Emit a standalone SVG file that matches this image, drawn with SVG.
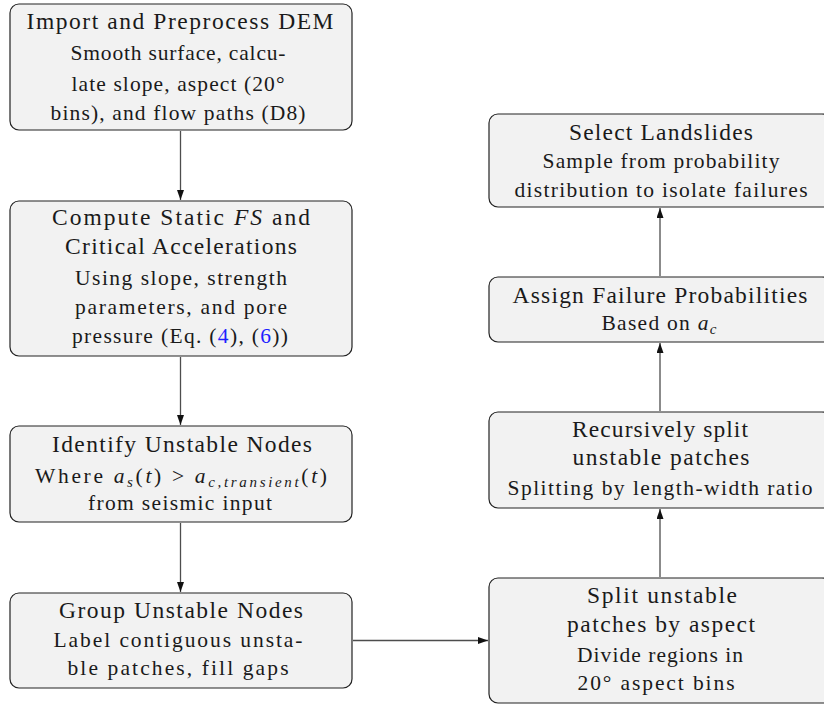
<svg xmlns="http://www.w3.org/2000/svg" width="824" height="704" viewBox="0 0 824 704">
<style>
  .box { fill: #f2f2f2; stroke: #222; stroke-width: 1.2; }
  text { font-family: "Liberation Serif", "Times New Roman", serif; fill: #1a1a1a; text-anchor: middle; }
  .t { font-size: 23.5px; }
  .s { font-size: 21.5px; }
  .m { font-style: italic; }
  .sub { font-size: 15px; font-style: italic; }
  .link { fill: #1f1fff; }
  .conn { stroke: #4d4d4d; stroke-width: 1.3; fill: none; marker-end: url(#arr); }
</style>
<defs>
  <marker id="arr" viewBox="0 0 10 7" refX="10" refY="3.5" markerWidth="10" markerHeight="7" markerUnits="userSpaceOnUse" orient="auto">
    <path d="M0,0 L10,3.5 L0,7 Z" fill="#111"/>
  </marker>
</defs>
<g id="connectors">
  <line class="conn" x1="180.5" y1="131" x2="180.5" y2="200"/>
  <line class="conn" x1="180.5" y1="357" x2="180.5" y2="425"/>
  <line class="conn" x1="180.5" y1="523" x2="180.5" y2="592"/>
  <line class="conn" x1="353" y1="640.5" x2="488" y2="640.5"/>
  <line class="conn" x1="660" y1="577" x2="660" y2="509"/>
  <line class="conn" x1="660" y1="411" x2="660" y2="343"/>
  <line class="conn" x1="660" y1="276" x2="660" y2="208"/>
</g>
<g id="n1">
  <rect class="box" x="10" y="4" width="342" height="126" rx="9"/>
  <text class="t" x="180" y="29" textLength="307" lengthAdjust="spacing">Import and Preprocess DEM</text>
  <text class="s" x="178" y="60" textLength="215" lengthAdjust="spacing">Smooth surface, calcu-</text>
  <text class="s" x="178" y="91" textLength="213" lengthAdjust="spacing">late slope, aspect (20°</text>
  <text class="s" x="178" y="120" textLength="255" lengthAdjust="spacing">bins), and flow paths (D8)</text>
</g>
<g id="n2">
  <rect class="box" x="10" y="201" width="342" height="155" rx="9"/>
  <text class="t" x="181" y="225" textLength="258" lengthAdjust="spacing">Compute Static <tspan class="m">FS</tspan> and</text>
  <text class="t" x="181" y="254" textLength="232" lengthAdjust="spacing">Critical Accelerations</text>
  <text class="s" x="181" y="285" textLength="212" lengthAdjust="spacing">Using slope, strength</text>
  <text class="s" x="181" y="314" textLength="212" lengthAdjust="spacing">parameters, and pore</text>
  <text class="s" x="180" y="343" textLength="216" lengthAdjust="spacing">pressure (Eq. (<tspan class="link">4</tspan>), (<tspan class="link">6</tspan>))</text>
</g>
<g id="n3">
  <rect class="box" x="10" y="426" width="342" height="96" rx="9"/>
  <text class="t" x="182" y="452" textLength="260" lengthAdjust="spacing">Identify Unstable Nodes</text>
  <text class="s" x="181" y="483" textLength="292" lengthAdjust="spacing">Where <tspan class="m">a</tspan><tspan class="sub" dy="4">s</tspan><tspan dy="-4">(</tspan><tspan class="m">t</tspan>) &gt; <tspan class="m">a</tspan><tspan class="sub" dy="4">c,transient</tspan><tspan dy="-4">(</tspan><tspan class="m">t</tspan>)</text>
  <text class="s" x="180" y="510" textLength="184" lengthAdjust="spacing">from seismic input</text>
</g>
<g id="n4">
  <rect class="box" x="10" y="593" width="342" height="95" rx="9"/>
  <text class="t" x="181" y="618" textLength="244" lengthAdjust="spacing">Group Unstable Nodes</text>
  <text class="s" x="178" y="647" textLength="249" lengthAdjust="spacing">Label contiguous unsta-</text>
  <text class="s" x="178" y="675" textLength="221" lengthAdjust="spacing">ble patches, fill gaps</text>
</g>
<g id="n5">
  <rect class="box" x="489" y="578" width="342" height="125" rx="9"/>
  <text class="t" x="662" y="603" textLength="150" lengthAdjust="spacing">Split unstable</text>
  <text class="t" x="661" y="632" textLength="188" lengthAdjust="spacing">patches by aspect</text>
  <text class="s" x="660" y="662" textLength="166" lengthAdjust="spacing">Divide regions in</text>
  <text class="s" x="656" y="690" textLength="157" lengthAdjust="spacing">20° aspect bins</text>
</g>
<g id="n6">
  <rect class="box" x="489" y="412" width="342" height="96" rx="9"/>
  <text class="t" x="660" y="437" textLength="176" lengthAdjust="spacing">Recursively split</text>
  <text class="t" x="661" y="465" textLength="177" lengthAdjust="spacing">unstable patches</text>
  <text class="s" x="660" y="495" textLength="305" lengthAdjust="spacing">Splitting by length-width ratio</text>
</g>
<g id="n7">
  <rect class="box" x="489" y="277" width="342" height="65" rx="9"/>
  <text class="t" x="660" y="303" textLength="295" lengthAdjust="spacing">Assign Failure Probabilities</text>
  <text class="s" x="659" y="330" textLength="115" lengthAdjust="spacing">Based on <tspan class="m">a</tspan><tspan class="sub" dy="4">c</tspan></text>
</g>
<g id="n8">
  <rect class="box" x="489" y="114" width="342" height="93" rx="9"/>
  <text class="t" x="661" y="140" textLength="184" lengthAdjust="spacing">Select Landslides</text>
  <text class="s" x="661" y="168" textLength="237" lengthAdjust="spacing">Sample from probability</text>
  <text class="s" x="661" y="197" textLength="293" lengthAdjust="spacing">distribution to isolate failures</text>
</g>
</svg>
